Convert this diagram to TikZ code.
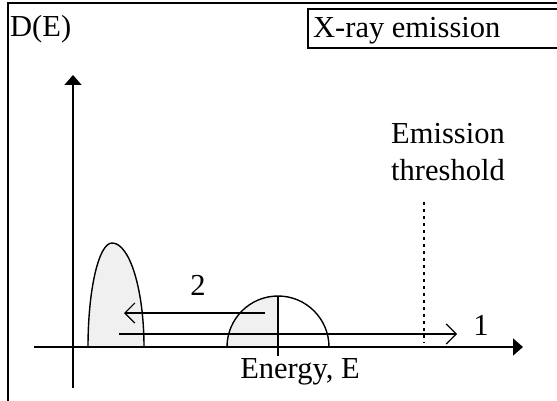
\documentclass[tikz,border=0pt]{standalone}
\usepackage{fontspec}
\setmainfont{Liberation Serif}
\usetikzlibrary{arrows.meta}
\definecolor{peakgray}{HTML}{F0F0F0}
\begin{document}
\begin{tikzpicture}[x=1pt,y=-1pt,
  lbl/.style={font=\fontsize{30.5}{37}\selectfont, inner sep=0pt},
  axis/.style={line width=1.6pt, -{Triangle[length=10pt,width=17pt]}},
  move/.style={line width=1.2pt, -{Straight Barb[length=10pt,width=20pt,line width=1.2pt]}},
  curve/.style={line width=1.4pt, fill=peakgray}]
\useasboundingbox (0,0) rectangle (557,401);
% frame
\draw[line width=2pt] (8,401) -- (8,3) -- (570,3);
% title box
\draw[line width=1.5pt] (308,48) rectangle (570,9);
\node[lbl, anchor=base west] (title) at (313,38) {X-ray emission};
\node[lbl, anchor=base west] (dlabel) at (10,37) {D(E)};
% peaks
\filldraw[curve] (88,347) arc[start angle=180, end angle=270, x radius=24, y radius=104]
  arc[start angle=270, end angle=360, x radius=32, y radius=104];
\fill[peakgray] (227,347) arc[start angle=180, end angle=270, radius=51] -- (278,347) -- cycle;
\draw[line width=1.4pt] (227,347) arc[start angle=180, end angle=360, radius=51];
\draw[line width=1.4pt] (278,296) -- (278,356);
% axes
\coordinate (ybot) at (73,388);
\coordinate (ytop) at (73,75);
\coordinate (xl) at (34,347);
\coordinate (xr) at (523,347);
\draw[axis] (ybot) -- (ytop);
\draw[axis] (xl) -- (xr);
% threshold
\coordinate (th1) at (424,202);
\coordinate (th2) at (424,343);
\draw[line width=2pt, dash pattern=on 3pt off 4pt] (th1) -- (th2);
\node[lbl, align=center, anchor=base] (thr) at (448,181) {Emission\\threshold};
% arrows
\coordinate (a1s) at (119,334);
\coordinate (a1e) at (457,334);
\draw[move] (a1s) -- (a1e);
\node[lbl, anchor=base] (one) at (481,335) {1};
\coordinate (a2s) at (265,313);
\coordinate (a2e) at (124,313);
\draw[move] (a2s) -- (a2e);
\node[lbl, anchor=base] (two) at (198,295) {2};
\node[lbl, anchor=base] (energy) at (300,378) {Energy, E};
\end{tikzpicture}
\end{document}
